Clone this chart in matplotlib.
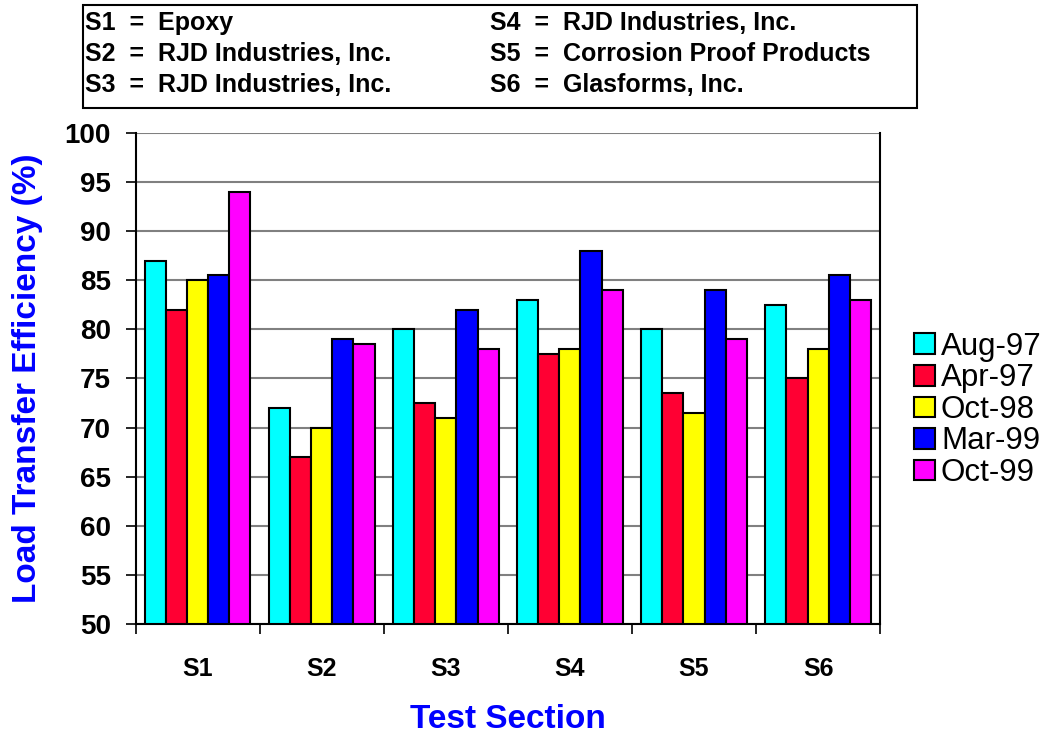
import matplotlib.pyplot as plt
import numpy as np
from matplotlib.patches import Rectangle

plt.rcParams['font.family'] = ['Liberation Sans', 'DejaVu Sans']

sections = ['S1', 'S2', 'S3', 'S4', 'S5', 'S6']
dates = ['Aug-97', 'Apr-97', 'Oct-98', 'Mar-99', 'Oct-99']
colors = ['#00FFFF', '#FF0033', '#FFFF00', '#0000FF', '#FF00FF']

aug97 = [87, 72, 80, 83, 80, 82.5]
apr97 = [82, 67, 72.5, 77.5, 73.5, 75]
oct98 = [85, 70, 71, 78, 71.5, 78]
mar99 = [85.5, 79, 82, 88, 84, 85.5]
oct99 = [94, 78.5, 78, 84, 79, 83]
series = [aug97, apr97, oct98, mar99, oct99]

key_left = ['S1  =  Epoxy', 'S2  =  RJD Industries, Inc.', 'S3  =  RJD Industries, Inc.']
key_right = ['S4  =  RJD Industries, Inc.', 'S5  =  Corrosion Proof Products', 'S6  =  Glasforms, Inc.']

fig = plt.figure(figsize=(10.44, 7.38), dpi=100)
ax = fig.add_axes([0.130, 0.1545, 0.713, 0.6653])

x = np.arange(len(sections))
w = 0.17
for i, (vals, lab, c) in enumerate(zip(series, dates, colors)):
    ax.bar(x + (i - 2) * w, np.array(vals) - 50, bottom=50, width=w, color=c,
           edgecolor='black', linewidth=1.5, label=lab, zorder=3)

ax.set_ylim(50, 100)
ax.set_xlim(-0.5, 5.5)
ax.set_yticks(np.arange(50, 101, 5))
ax.yaxis.grid(True, color='#808080', linewidth=1.5, zorder=0)
ax.set_xticks(np.arange(-0.5, 6, 1))
ax.set_xticklabels([])
ax.set_xticks(x, minor=True)
ax.set_xticklabels(sections, minor=True, fontsize=18, fontweight='bold')
ax.tick_params(axis='x', which='minor', length=0, pad=24)
ax.tick_params(axis='x', which='major', length=7, width=1.2, direction='out')
ax.tick_params(axis='y', length=7, width=1.2, labelsize=20, pad=11)
for t in ax.get_yticklabels():
    t.set_fontweight('bold')

ax.spines['top'].set_visible(False)
for s in ['left', 'bottom', 'right']:
    ax.spines[s].set_linewidth(1.5)

ax.set_ylabel('Load Transfer Efficiency (%)', fontsize=24, fontweight='bold', color='#0000FF')
ax.set_xlabel('Test Section', fontsize=24, fontweight='bold', color='#0000FF')
ax.yaxis.set_label_coords(-0.125, 0.5)
ax.xaxis.set_label_coords(0.5, -0.163)

ax.legend(loc='center left', bbox_to_anchor=(1.046, 0.436), frameon=False, fontsize=22.5,
          handlelength=0.65, handleheight=0.65, handletextpad=0.2, labelspacing=0.05,
          borderaxespad=0, borderpad=0)

# key box at top
fig.patches.append(Rectangle((83 / 1044, 1 - 108 / 738), 834 / 1044, 103 / 738,
                             transform=fig.transFigure, fill=False, edgecolor='black', linewidth=1.5))
for j, (l, r) in enumerate(zip(key_left, key_right)):
    yy = 1 - (23 + j * 31) / 738
    fig.text(85 / 1044, yy, l, fontsize=18, fontweight='bold', va='center')
    fig.text(490 / 1044, yy, r, fontsize=18, fontweight='bold', va='center')

fig.savefig('out.png', dpi=100)
